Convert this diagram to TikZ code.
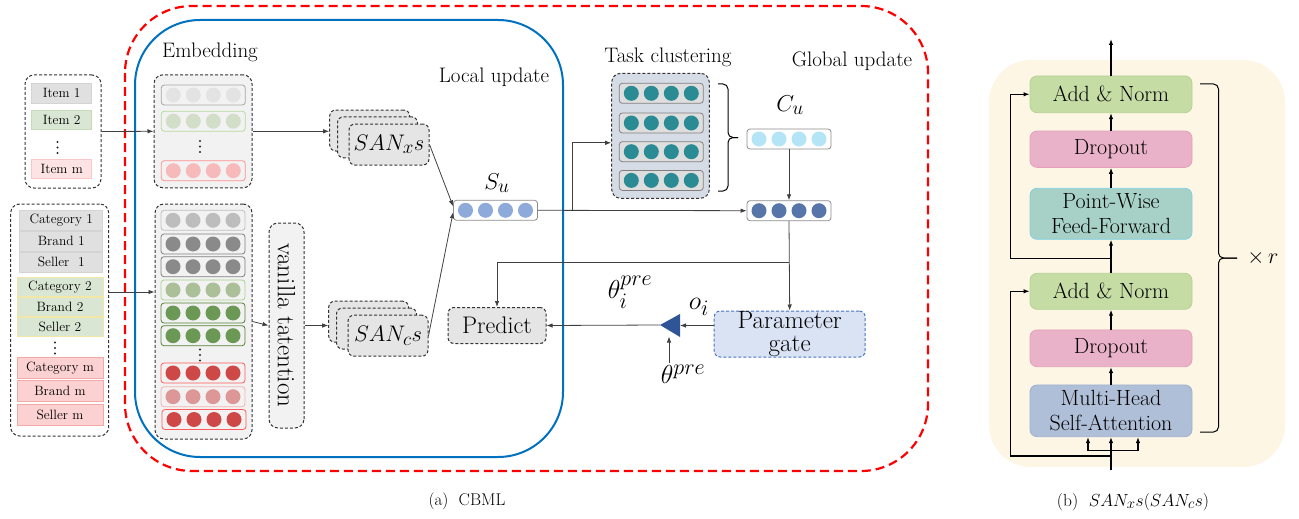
\RequirePackage{fix-cm}
\documentclass[tikz,border=0pt]{standalone}
\usepackage{amsmath}
\usepackage{tikz}
\usetikzlibrary{positioning,calc,arrows.meta}
\renewcommand{\defaultscriptratio}{.85}
\renewcommand{\defaultscriptscriptratio}{.7}
\definecolor{redframe}{HTML}{FF0000}
\definecolor{blueframe}{HTML}{0070C0}
\definecolor{panelbg}{HTML}{F2F2F2}
\definecolor{taskbg}{HTML}{D6DCE5}
\definecolor{gatebg}{HTML}{DAE3F3}
\definecolor{gateline}{HTML}{4472C4}
\definecolor{tricol}{HTML}{2F5597}
\definecolor{cream}{HTML}{FEF6E5}
\definecolor{anfill}{HTML}{C5DCA5}
\definecolor{anline}{HTML}{B6D294}
\definecolor{dofill}{HTML}{EAB2C8}
\definecolor{doline}{HTML}{E4A0BC}
\definecolor{fffill}{HTML}{A7D1C6}
\definecolor{ffline}{HTML}{7FD0E6}
\definecolor{mhfill}{HTML}{B0BFD8}
\definecolor{mhline}{HTML}{9DB1D0}
% cells and embedding dots
\definecolor{grncell}{HTML}{D9E6D3}
\definecolor{grnline}{HTML}{C6DCB6}
\definecolor{ylwline}{HTML}{F2E7A7}
\definecolor{pnkcell}{HTML}{FDE3E3}
\definecolor{pnkline}{HTML}{F9C7C7}
\definecolor{redcell}{HTML}{FCD1D1}
\definecolor{redline}{HTML}{F4A9A9}
\definecolor{lgrnrow}{HTML}{B5D99C}
\definecolor{lgrndot}{HTML}{D3DEC9}
\definecolor{lredrow}{HTML}{FF8F8F}
\definecolor{lreddot}{HTML}{F6BABA}
\definecolor{mgrnrow}{HTML}{A9D18E}
\definecolor{mgrndot}{HTML}{ABBF98}
\definecolor{dgrnrow}{HTML}{548235}
\definecolor{dgrndot}{HTML}{6B9955}
\definecolor{dredrow}{HTML}{FF5B5B}
\definecolor{dreddot}{HTML}{CF4848}
\definecolor{mredrow}{HTML}{F4B1B1}
\definecolor{mreddot}{HTML}{DD9797}
\definecolor{tealdot}{HTML}{2A8B94}
\definecolor{sudot}{HTML}{8EAADB}
\definecolor{cudot}{HTML}{B4E5F6}
\definecolor{cmbdot}{HTML}{5875AA}
\newcommand{\fsz}[2]{\fontsize{#1}{#2}\selectfont}
\newcommand{\vrow}[6]{% x, y, name, border, circles, row fill
  \node[rowbox,draw=#4,fill=#6] (#3) at (#1,#2) {};
  \foreach \dx in {-30,-10,10,30} \fill[#5] (#1+\dx,#2) circle (7.5pt);}
\newcommand{\vdotsat}[2]{% x, y   (vertical ellipsis)
  \foreach \dy in {-5.5,0,5.5} \fill[black!85] (#1,#2+\dy) circle (1.2pt);}
\newcommand{\sanstack}[4]{% x, y (front box), name, label
  \node[sanbox] (#3a) at (#1-19.3,#2-14) {};
  \node[sanbox] (#3b) at (#1-11.5,#2-7.2) {};
  \node[sanbox,font=\fsz{22.5}{24}] (#3) at (#1,#2) {#4};}
\newcommand{\rbr}[4]{% x, top, bottom, depth
  \draw[line width=1pt,rounded corners=5pt] (#1,#2) -- (#1+#4/2,#2) -- (#1+#4/2,#2/2+#3/2) -- (#1+#4,#2/2+#3/2);
  \draw[line width=1pt,rounded corners=5pt] (#1+#4,#2/2+#3/2) -- (#1+#4/2,#2/2+#3/2) -- (#1+#4/2,#3) -- (#1,#3);}
\tikzset{
  dashbox/.style={draw=black!80,dash pattern=on 3pt off 2pt,line width=1pt,rounded corners=9pt,inner sep=0},
  cell/.style={minimum height=19.5pt,inner sep=0,line width=0.7pt,font=\fsz{13.5}{15}},
  rowbox/.style={rectangle,rounded corners=3pt,minimum width=84pt,minimum height=20pt,line width=0.8pt,inner sep=0},
  sanbox/.style={dashbox,fill=black!10,rounded corners=6pt,minimum width=80pt,minimum height=41pt},
  conn/.style={draw=black!75,line width=0.8pt},
  blk/.style={rectangle,rounded corners=7pt,minimum width=162pt,line width=0.8pt,inner sep=0,align=center,font=\fsz{22}{25}},
  lbl/.style={font=\fsz{21}{23}},
  mlbl/.style={inner sep=1pt,font=\fsz{26}{28}},
}
\begin{document}
\begin{tikzpicture}[x=1pt,y=-1pt,>={Latex[length=6pt,width=4.5pt]}]
  \useasboundingbox (0,0) rectangle (1299,519);
  % frames
  \draw[redframe,line width=2.2pt,dash pattern=on 9pt off 5pt,rounded corners=67pt] (125,6) rectangle (928,471);
  \draw[blueframe,line width=2pt,rounded corners=65pt] (135,20) rectangle (563,457);
  \node[lbl] (embl) at (210,52) {Embedding};
  \node[lbl] (locl) at (494,77) {Local update};
  \node[lbl] (taskl) at (668,57) {Task clustering};
  \node[lbl] (globl) at (852,61) {Global update};
  % item sequence
  \node[dashbox,minimum width=76pt,minimum height=113pt] (item) at (63,131.5) {};
  \node[cell,minimum width=60pt,fill=black!12,draw=black!17] (it1) at (61.7,93.3) {Item 1};
  \node[cell,minimum width=60pt,fill=grncell,draw=grnline] (it2) at (61.7,119.8) {Item 2};
  \vdotsat{57.5}{147.5}
  \node[cell,minimum width=60pt,fill=pnkcell,draw=pnkline] (itm) at (61.7,169) {Item m};
  % side information
  \node[dashbox,minimum width=98pt,minimum height=232pt] (cat) at (59.7,320) {};
  \node[cell,minimum width=83pt,fill=black!12,draw=black!17] (c1) at (61.3,220.3) {Category 1};
  \node[cell,minimum width=83pt,fill=black!12,draw=black!17] (b1) at (61.3,241.3) {Brand 1};
  \node[cell,minimum width=83pt,fill=black!12,draw=black!17] (s1) at (61.3,262.3) {Seller\ \ 1};
  \node[cell,minimum width=86pt,fill=grncell,draw=ylwline] (c2) at (60,286.7) {Category 2};
  \node[cell,minimum width=86pt,fill=grncell,draw=ylwline] (b2) at (60,307) {Brand 2};
  \node[cell,minimum width=86pt,fill=grncell,draw=ylwline] (s2) at (60,327) {Seller 2};
  \vdotsat{55}{348}
  \node[cell,minimum width=86pt,minimum height=21pt,fill=redcell,draw=redline] (cm) at (60,367.8) {Category m};
  \node[cell,minimum width=86pt,minimum height=21pt,fill=redcell,draw=redline] (bm) at (60,390.7) {Brand m};
  \node[cell,minimum width=86pt,minimum height=21pt,fill=redcell,draw=redline] (sm) at (60,415.3) {Seller m};
  % embedding of items
  \node[dashbox,fill=panelbg,minimum width=98pt,minimum height=113pt] (embup) at (203,131.3) {};
  \vrow{203.3}{95}{eu1}{black!35}{black!11}{none}
  \vrow{203.3}{121.2}{eu2}{lgrnrow}{lgrndot}{none}
  \vdotsat{200}{146.5}
  \vrow{203.3}{170.7}{eu3}{lredrow}{lreddot}{none}
  % embedding of side information
  \node[dashbox,fill=panelbg,minimum width=97pt,minimum height=235pt] (emblo) at (203.5,321.5) {};
  \vrow{203}{220.3}{el1}{black!25}{black!26}{none}
  \vrow{203}{244}{el2}{black!50}{black!46}{none}
  \vrow{203}{266.7}{el3}{black!50}{black!46}{none}
  \vrow{203}{290}{el4}{mgrnrow}{mgrndot}{none}
  \vrow{203}{313}{el5}{dgrnrow}{dgrndot}{none}
  \vrow{203}{335.7}{el6}{dgrnrow}{dgrndot}{none}
  \vdotsat{200}{355}
  \vrow{203}{373}{el7}{dredrow}{dreddot}{none}
  \vrow{203}{396.7}{el8}{mredrow}{mreddot}{none}
  \vrow{204}{419.5}{el9}{dredrow}{dreddot}{none}
  \node[dashbox,fill=panelbg,rotate=-90,minimum width=205pt,minimum height=35pt,font=\fsz{25}{26}] (van) at (286.5,325.5) {vanilla tatention};
  % self-attention networks
  \sanstack{389}{144.5}{sx}{$SAN_x s$}
  \sanstack{388}{335.7}{sc}{$SAN_c s$}
  % user vector and task clustering
  \vrow{495.5}{210.3}{su}{black!45}{sudot}{white}
  \node[font=\fsz{23}{24}] (sul) at (497,183) {$S_u$};
  \node[dashbox,fill=taskbg,minimum width=97.6pt,minimum height=125pt] (task) at (660.5,135.8) {};
  \vrow{661.3}{93.3}{t1}{black!50}{tealdot}{black!13}
  \vrow{661.3}{123}{t2}{black!50}{tealdot}{black!13}
  \vrow{661.3}{151.7}{t3}{black!50}{tealdot}{black!13}
  \vrow{661.3}{180.4}{t4}{black!50}{tealdot}{black!13}
  \rbr{718}{84}{191}{20}
  \vrow{789}{139}{cu}{black!45}{cudot}{white}
  \node[font=\fsz{23}{24}] (cul) at (790,105) {$C_u$};
  \vrow{789}{210.7}{cmb}{black!45}{cmbdot}{white}
  % global update
  \node[dashbox,draw=gateline,fill=gatebg,rounded corners=6pt,minimum width=151pt,minimum height=46pt,align=center,font=\fsz{25}{23}] (gate) at (789.7,334) {Parameter\\gate};
  \node[dashbox,fill=black!10,rounded corners=6pt,minimum width=98pt,minimum height=36pt,font=\fsz{24}{26}] (pred) at (497,325.5) {Predict};
  \coordinate (tri) at (660,325);
  \coordinate (trir) at (680,325.5);
  \coordinate (trib) at (669,336.5);
  \fill[tricol] (tri) -- (680,314) -- (680,337) -- cycle;
  \node[mlbl] (oil) at (699,307) {$o_i$};
  \node[mlbl] (thil) at (630,292) {$\theta_i^{pre}$};
  \node[mlbl] (thpre) at (683,374) {$\theta^{pre}$};
  \coordinate (br) at (572,210.3);
  \coordinate (fb) at (789,262);
  % connectors
  \draw[conn,->] (item.east) -- (embup.west);
  \draw[conn,->] ([yshift=28pt]cat.east) -- ([yshift=28pt]cat.east -| emblo.west);
  \draw[conn,->] (emblo.east) -- (van.south);
  \draw[conn,->] (embup.east) -- (embup.east -| sxa.west);
  \draw[conn,->] (van.north) -- (van.north -| sca.west);
  \draw[conn,->] (sx.east) -- ([yshift=4pt]su.west);
  \draw[conn,->] (sc.east) -- ([yshift=-2pt]su.west);
  \draw[conn,->] (su.east) -- (cmb.west);
  \draw[conn,->] (br) |- ([yshift=-7pt]task.west);
  \draw[conn,->] (cu.south) -- (cmb.north);
  \draw[conn,->] (cmb.south) -- (gate.north);
  \draw[conn,->] (fb) -| (pred.north);
  \draw[conn,->] ([yshift=8.5pt]gate.west) -- (trir);
  \draw[conn,->] (tri) -- (pred.east);
  \draw[conn,->] (trib |- thpre.north) -- (trib);
  % transformer block
  \fill[cream,rounded corners=42pt] (989,60) rectangle (1285,467);
  \node[blk,fill=anfill,draw=anline,minimum height=36.7pt] (an1) at (1111,94.3) {Add \& Norm};
  \node[blk,fill=dofill,draw=doline,minimum height=36.3pt] (do1) at (1111,149.2) {Dropout};
  \node[blk,fill=fffill,draw=ffline,minimum height=51pt] (ff) at (1111,213.8) {Point-Wise\\Feed-Forward};
  \node[blk,fill=anfill,draw=anline,minimum height=36pt] (an2) at (1111,291.3) {Add \& Norm};
  \node[blk,fill=dofill,draw=doline,minimum height=36.7pt] (do2) at (1111,348.3) {Dropout};
  \node[blk,fill=mhfill,draw=mhline,minimum height=51.7pt] (mh) at (1111,410.8) {Multi-Head\\Self-Attention};
  \coordinate (in) at (1111,470);
  \coordinate (split) at (1111,450.7);
  \coordinate (res1) at (1111,456);
  \coordinate (res2) at (1111,258.7);
  \coordinate (out) at (1111,39);
  \draw[line width=1.1pt] (in) -- (split);
  \draw[line width=1.1pt,->] (split) -- (mh.south);
  \draw[line width=1.1pt,->] (split) -| ([xshift=-23pt]mh.south);
  \draw[line width=1.1pt,->] (split) -| ([xshift=27pt]mh.south);
  \draw[line width=1.1pt,->] (res1) -- ++(-100.3,0) |- (an2.west);
  \draw[line width=1.1pt,->] (mh) -- (do2);
  \draw[line width=1.1pt,->] (do2) -- (an2);
  \draw[line width=1.1pt,->] (an2) -- (ff);
  \draw[line width=1.1pt,->] (ff) -- (do1);
  \draw[line width=1.1pt,->] (do1) -- (an1);
  \draw[line width=1.1pt,->] (an1) -- (out);
  \draw[line width=1.1pt,->] (res2) -- ++(-100.3,0) |- (an1.west);
  \rbr{1200}{84}{432}{37}
  \node[font=\fsz{22}{24}] (rep) at (1263,258) {$\times\,r$};
  % captions
  \node[font=\fsz{17}{19}] (capa) at (467,501) {(a)\ \ CBML};
  \node[font=\fsz{17.5}{19}] (capb) at (1133,502) {(b)\ \ $SAN_x s(SAN_c s)$};
\end{tikzpicture}
\end{document}
